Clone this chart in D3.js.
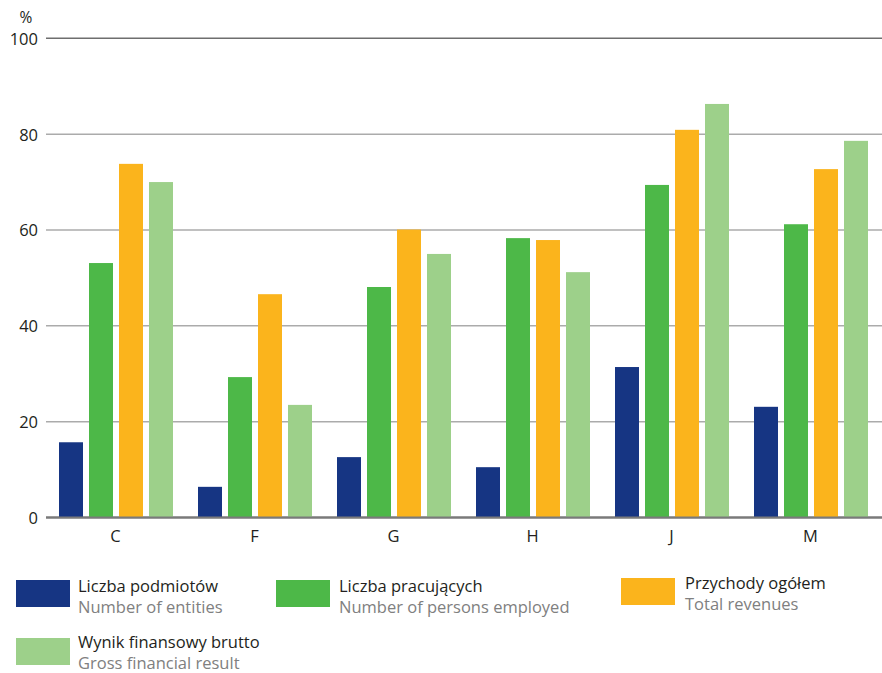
<!DOCTYPE html>
<html><head><meta charset="utf-8">
<script src="https://cdn.jsdelivr.net/npm/d3@7"></script>
<style>
body{margin:0;background:#fff;}
svg{display:block;font-family:"Open Sans","Noto Sans",sans-serif;}
</style></head>
<body><svg id="c" width="882" height="673"></svg>
<script>
const categories = ["C","F","G","H","J","M"];
const seriesNamesPL = ["Liczba podmiotów","Liczba pracujących","Przychody ogółem","Wynik finansowy brutto"];
const seriesNamesEN = ["Number of entities","Number of persons employed","Total revenues","Gross financial result"];
const entities  = [15.7, 6.4, 12.6, 10.5, 31.4, 23.1];
const employed  = [53.1, 29.3, 48.1, 58.3, 69.4, 61.2];
const revenues  = [73.8, 46.6, 60.1, 57.9, 80.9, 72.7];
const financial = [70.0, 23.5, 55.0, 51.2, 86.3, 78.6];
const yTicks = [0,20,40,60,80,100];
const colors = ["#163583","#4db848","#fbb41c","#9dd08a"];

const series = [entities, employed, revenues, financial];
const svg = d3.select("#c");

const x0 = d3.scaleBand().domain(categories).range([46, 880]).paddingInner(0).paddingOuter(0);
const x1 = d3.scaleBand().domain(d3.range(series.length)).range([13, 127]).paddingInner(0.2).paddingOuter(0);
const y = d3.scaleLinear().domain([0,100]).range([517.5, 38.3]);

// gridlines
svg.append("g").selectAll("line").data(yTicks).join("line")
  .attr("x1", 46).attr("x2", 882)
  .attr("y1", d=>y(d)).attr("y2", d=>y(d))
  .attr("stroke", d=> d===100 ? "#6e6e6e" : (d===0 ? "#7a7a7a" : "#ababab"))
  .attr("stroke-width", d=> d===0 ? 2 : 1.5);

// y axis labels
const yAxis = d3.axisLeft(y).tickValues(yTicks).tickSize(0).tickPadding(0);
const gy = svg.append("g").attr("transform","translate(38,0)").call(yAxis);
gy.select(".domain").remove();
gy.selectAll("text").attr("font-size",16.5).attr("fill","#231f20").attr("dy","0.36em")
  .style("font-family","'Open Sans','Noto Sans',sans-serif");

svg.append("text").attr("x",26).attr("y",23).attr("text-anchor","middle")
  .attr("font-size",15.5).attr("fill","#231f20").text("%");

// bars
const groups = svg.append("g").selectAll("g").data(categories).join("g")
  .attr("transform", c=>`translate(${x0(c)},0)`);
groups.selectAll("rect").data((c,i)=> series.map((s,k)=>({k, v:s[i]}))).join("rect")
  .attr("x", d=>x1(d.k)).attr("width", x1.bandwidth())
  .attr("y", d=>y(d.v)).attr("height", d=>y(0)-y(d.v))
  .attr("fill", d=>colors[d.k]);

// redraw baseline on top
svg.append("line").attr("x1",46).attr("x2",882).attr("y1",y(0)).attr("y2",y(0))
  .attr("stroke","#7a7a7a").attr("stroke-width",2);

// x axis labels
const xAxis = d3.axisBottom(x0).tickSize(0).tickPadding(0);
const gx = svg.append("g").attr("transform",`translate(0,${y(0)})`).call(xAxis);
gx.select(".domain").remove();
gx.selectAll("text").attr("font-size",16.5).attr("fill","#231f20").attr("y",24).attr("dy",0)
  .style("font-family","'Open Sans','Noto Sans',sans-serif");

// legend
const legendPos = [
  {sx:16, sy:580, tx:78, ty1:592, ty2:613},
  {sx:276, sy:580, tx:339, ty1:592, ty2:613},
  {sx:621, sy:578, tx:685, ty1:589, ty2:610},
  {sx:16, sy:638, tx:78, ty1:648, ty2:669}
];
const lg = svg.append("g").selectAll("g").data(legendPos).join("g");
lg.append("rect").attr("x",d=>d.sx).attr("y",d=>d.sy).attr("width",54).attr("height",27)
  .attr("fill",(d,i)=>colors[i]);
lg.append("text").attr("x",d=>d.tx).attr("y",d=>d.ty1).attr("font-size",16.5).attr("fill","#231f20")
  .text((d,i)=>seriesNamesPL[i]);
lg.append("text").attr("x",d=>d.tx).attr("y",d=>d.ty2).attr("font-size",16.5).attr("fill","#808080")
  .text((d,i)=>seriesNamesEN[i]);
</script></body></html>
